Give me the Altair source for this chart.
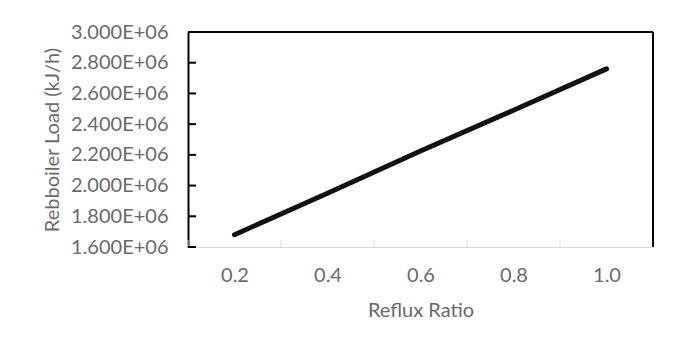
import altair as alt
import pandas as pd

# Data
reflux_ratio = [0.2, 0.4, 0.6, 0.8, 1.0]
reboiler_load = [1.68e6, 1.95e6, 2.225e6, 2.49e6, 2.76e6]

y_tick_values = [1.6e6, 1.8e6, 2.0e6, 2.2e6, 2.4e6, 2.6e6, 2.8e6, 3.0e6]
x_label_values = [0.2, 0.4, 0.6, 0.8, 1.0]
x_tick_values = [0.1, 0.3, 0.5, 0.7, 0.9, 1.1]

X_DOMAIN = [0.1, 1.1]
Y_DOMAIN = [1.6e6, 3.0e6]

W, H = 465, 215
FONT = "Lato"
TEXT = "#6a6a6a"

xs = alt.Scale(domain=X_DOMAIN, nice=False, zero=False)
ys = alt.Scale(domain=Y_DOMAIN, nice=False, zero=False)

x_axis = alt.Axis(values=x_label_values, format=".1f", ticks=False, tickSize=0,
                  grid=False, domainColor="#d9d9d9", domainWidth=1,
                  labelPadding=18, titlePadding=15, labelOverlap=False)
y_axis = alt.Axis(values=y_tick_values, ticks=False, tickSize=0,
                  grid=False, domainColor="#000000", domainWidth=2,
                  labelPadding=20, titlePadding=8, labelOverlap=False,
                  labelExpr="replace(format(datum.value, '.3e'), 'e+', 'E+0')")
X_TITLE = "Reflux Ratio"
Y_TITLE = "Rebboiler Load (kJ/h)"

df = pd.DataFrame({"x": reflux_ratio, "y": reboiler_load})
line = alt.Chart(df).mark_line(color="#111111", strokeWidth=5, strokeCap="round").encode(
    x=alt.X("x:Q", scale=xs, title=X_TITLE, axis=x_axis),
    y=alt.Y("y:Q", scale=ys, title=Y_TITLE, axis=y_axis),
)

ytk = alt.Chart(pd.DataFrame({"y": y_tick_values})).mark_rule(color="#000000", strokeWidth=2).encode(
    y=alt.Y("y:Q", scale=ys, title=Y_TITLE, axis=y_axis), x=alt.value(0), x2=alt.value(8)
)
xtk = alt.Chart(pd.DataFrame({"x": x_tick_values})).mark_rule(color="#d9d9d9", strokeWidth=1).encode(
    x=alt.X("x:Q", scale=xs, title=X_TITLE, axis=x_axis), y=alt.value(H), y2=alt.value(H - 7)
)
frame = pd.DataFrame({"x": [X_DOMAIN[0], X_DOMAIN[1]], "x2": [X_DOMAIN[1], X_DOMAIN[1]],
                      "y": [Y_DOMAIN[1], Y_DOMAIN[0]], "y2": [Y_DOMAIN[1], Y_DOMAIN[1]]})
borders = alt.Chart(frame).mark_rule(color="#000000", strokeWidth=2).encode(
    x=alt.X("x:Q", scale=xs, title=X_TITLE, axis=x_axis), x2="x2:Q",
    y=alt.Y("y:Q", scale=ys, title=Y_TITLE, axis=y_axis), y2="y2:Q",
)

chart = alt.layer(line, xtk, ytk, borders).properties(
    width=W, height=H,
    background="white",
    autosize=alt.AutoSizeParams(type="none"),
    padding={"left": 180, "top": 24, "right": 24, "bottom": 105},
).configure_view(stroke=None).configure_axis(
    labelFont=FONT, titleFont=FONT, labelColor=TEXT, titleColor=TEXT,
    labelFontSize=20, titleFontSize=20, titleFontWeight="normal",
)

chart.save("out.html", embed_options={"renderer": "svg", "actions": False})
